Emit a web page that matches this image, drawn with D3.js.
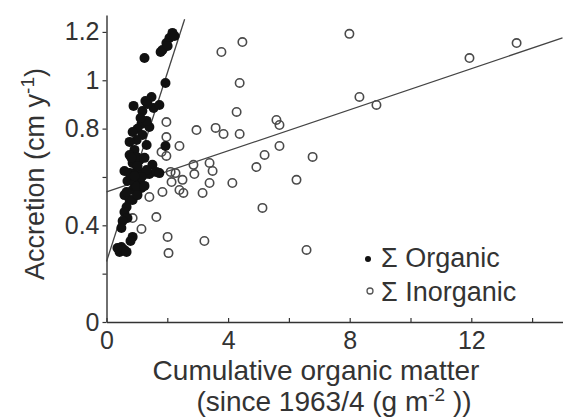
<!DOCTYPE html>
<html>
<head>
<meta charset="utf-8">
<script src="https://cdn.jsdelivr.net/npm/d3@7"></script>
<style>
  html, body { margin: 0; padding: 0; background: #fff; }
  svg { display: block; }
  text { font-family: "Liberation Sans", Arial, Helvetica, sans-serif; fill: #333; }
</style>
</head>
<body>
<svg id="chart" width="563" height="418"></svg>
<script>
// Σ Organic: cumulative organic matter (g m-2) vs accretion (cm y-1)
const organicX = [2.17, 2.07, 1.97, 2.24, 1.84, 2.01, 1.25, 1.78, 1.94, 1.48,
  1.28, 0.89, 1.18, 1.55, 1.74, 1.35, 1.15, 1.02, 0.86, 1.18,
  0.99, 0.76, 1.41, 1.32, 1.12, 0.92, 0.76, 1.32, 1.94, 0.86,
  0.59, 0.76, 0.99, 1.18, 1.51, 1.41, 1.64, 0.69, 0.92, 1.09,
  0.86, 1.15, 0.59, 0.76, 0.66, 0.59, 0.69, 0.53, 0.49, 0.86,
  0.79, 0.49, 0.43, 0.59, 1.09, 0.99, 0.82, 1.25, 1.32, 1.15,
  0.99, 0.66, 0.86, 1.02, 1.74, 0.36, 0.66, 0.92, 1.25, 1.02];
const organicY = [1.196, 1.175, 1.154, 1.183, 1.125, 1.142, 1.092, 1.117, 0.989, 0.931,
  0.914, 0.894, 0.873, 0.885, 0.898, 0.902, 0.819, 0.799, 0.786, 0.774,
  0.753, 0.745, 0.807, 0.832, 0.844, 0.712, 0.691, 0.732, 0.728, 0.658,
  0.625, 0.616, 0.625, 0.616, 0.650, 0.612, 0.621, 0.583, 0.575, 0.588,
  0.546, 0.554, 0.525, 0.505, 0.476, 0.455, 0.430, 0.418, 0.389, 0.352,
  0.335, 0.310, 0.290, 0.298, 0.670, 0.683, 0.679, 0.679, 0.629, 0.600,
  0.559, 0.538, 0.505, 0.645, 0.616, 0.306, 0.290, 0.604, 0.563, 0.525];

// Σ Inorganic
const inorganicX = [1.97, 1.97, 2.40, 1.81, 1.97, 2.96, 3.59, 3.85, 4.38, 4.28,
  4.38, 3.78, 4.47, 5.59, 5.69, 5.69, 5.20, 4.93, 2.86, 3.39,
  3.49, 2.89, 2.50, 2.14, 1.84, 2.40, 2.53, 3.39, 3.16, 4.14,
  1.41, 5.13, 1.64, 0.86, 1.15, 2.01, 2.04, 3.22, 6.25, 6.58,
  7.99, 11.94, 13.49, 8.32, 8.88, 6.78, 2.11, 2.27];
const inorganicY = [0.827, 0.765, 0.728, 0.703, 0.687, 0.794, 0.803, 0.778, 0.778, 0.869,
  0.989, 1.117, 1.158, 0.836, 0.815, 0.728, 0.691, 0.641, 0.650, 0.658,
  0.625, 0.612, 0.588, 0.579, 0.538, 0.546, 0.534, 0.575, 0.534, 0.575,
  0.517, 0.472, 0.434, 0.430, 0.385, 0.352, 0.285, 0.335, 0.588, 0.298,
  1.192, 1.092, 1.154, 0.931, 0.898, 0.683, 0.621, 0.616];

// Least-squares lines: [intercept, slope, x-end]
const organicFit = [0.25, 0.39, 2.57];
const inorganicFit = [0.538, 0.0425, 15];

const xTickValues = [0, 2, 4, 6, 8, 10, 12, 14];
const xTickLabels = [0, 4, 8, 12];
const yTickValues = [0, 0.2, 0.4, 0.6, 0.8, 1.0, 1.2];
const yTickLabels = [0, 0.4, 0.8, 1, 1.2];

const svg = d3.select("#chart");
const x = d3.scaleLinear().domain([0, 15]).range([106.5, 562.5]);
const y = d3.scaleLinear().domain([0, 1.27]).range([322, 15]);

const axisColor = "#333";

// Axes
const xAxis = d3.axisBottom(x)
  .tickValues(xTickValues)
  .tickSize(-4)
  .tickSizeOuter(0)
  .tickPadding(9)
  .tickFormat(d => xTickLabels.includes(d) ? d3.format("d")(d) : "");
const gx = svg.append("g").attr("transform", "translate(0,322)").call(xAxis);

const yAxis = d3.axisLeft(y)
  .tickValues(yTickValues)
  .tickSize(4)
  .tickSizeOuter(0)
  .tickPadding(3)
  .tickFormat(d => yTickLabels.some(v => Math.abs(v - d) < 1e-9) ? d3.format("~g")(d) : "");
const gy = svg.append("g").attr("transform", "translate(106.5,0)").call(yAxis);

[gx, gy].forEach(g => {
  g.select(".domain").attr("stroke", axisColor).attr("stroke-width", 1.4);
  g.selectAll(".tick line").attr("stroke", axisColor).attr("stroke-width", 1.2);
  g.selectAll(".tick text")
    .attr("fill", axisColor)
    .style("font-size", "25px")
    .style("font-family", "'Liberation Sans', Arial, sans-serif");
});

// Regression lines
const line = d3.line().x(d => x(d[0])).y(d => y(d[1]));
function fitPoints(f) { return [[0, f[0]], [f[2], f[0] + f[1] * f[2]]]; }
svg.append("path").datum(fitPoints(inorganicFit)).attr("d", line)
  .attr("fill", "none").attr("stroke", "#444").attr("stroke-width", 1.3);
svg.append("path").datum(fitPoints(organicFit)).attr("d", line)
  .attr("fill", "none").attr("stroke", "#444").attr("stroke-width", 1.3);

// Inorganic points (open)
svg.append("g").selectAll("circle")
  .data(d3.zip(inorganicX, inorganicY))
  .join("circle")
  .attr("cx", d => x(d[0])).attr("cy", d => y(d[1]))
  .attr("r", 4.2)
  .attr("fill", "none").attr("stroke", "#4a4a4a").attr("stroke-width", 1.6);

// Organic points (filled)
svg.append("g").selectAll("circle")
  .data(d3.zip(organicX, organicY))
  .join("circle")
  .attr("cx", d => x(d[0])).attr("cy", d => y(d[1]))
  .attr("r", 5)
  .attr("fill", "#111");

// Legend
const legend = svg.append("g");
legend.append("circle").attr("cx", 368).attr("cy", 259).attr("r", 3).attr("fill", "#111");
legend.append("circle").attr("cx", 370).attr("cy", 291).attr("r", 3)
  .attr("fill", "none").attr("stroke", "#555").attr("stroke-width", 1.3);
legend.append("text").attr("x", 381).attr("y", 267).style("font-size", "27px").text("Σ Organic");
legend.append("text").attr("x", 381).attr("y", 301).style("font-size", "27px").text("Σ Inorganic");

// Axis titles
svg.append("text").attr("x", 316).attr("y", 380).attr("text-anchor", "middle")
  .style("font-size", "28px").text("Cumulative organic matter");
const t2 = svg.append("text").attr("x", 334).attr("y", 411).attr("text-anchor", "middle")
  .style("font-size", "28px");
t2.append("tspan").text("(since 1963/4 (g m");
t2.append("tspan").attr("dy", -10).style("font-size", "19px").text("-2");
t2.append("tspan").attr("dy", 10).text(" ))");

const yt = svg.append("text")
  .attr("transform", "translate(44,174) rotate(-90)")
  .attr("text-anchor", "middle")
  .style("font-size", "27px");
yt.append("tspan").text("Accretion (cm y");
yt.append("tspan").attr("dy", -10).style("font-size", "19px").text("-1");
yt.append("tspan").attr("dy", 10).text(")");
</script>
</body>
</html>
